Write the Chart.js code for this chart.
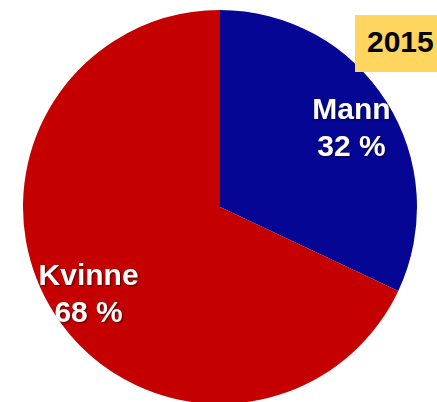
<!DOCTYPE html>
<html>
<head>
<meta charset="utf-8">
<script src="https://cdn.jsdelivr.net/npm/chart.js@4/dist/chart.umd.min.js"></script>
<style>
  html, body { margin: 0; padding: 0; background: #fff; overflow: hidden; width: 437px; height: 402px; }
  #wrap { position: absolute; left: 0; top: 0; width: 440px; height: 414px; }
  #year {
    position: absolute; left: 355px; top: 15px; width: 100px; height: 57px;
    background: #FDD55F; color: #000;
    font: bold 30px "Liberation Sans", Arial, sans-serif;
    line-height: 54px; padding-left: 12px; box-sizing: border-box;
  }
</style>
</head>
<body>
<div id="wrap"><canvas id="chart"></canvas></div>
<div id="year">2015</div>
<script>
const labels = ["Mann", "Kvinne"]
const values = [32, 68]
const percentLabels = ["32 %", "68 %"]
const colors = ["#060694", "#C40000"]

// draws the name + percent inside each slice, along its middle angle
// (clipped to the pie, white text on white page disappears in the original too)
const sliceLabels = {
  id: "sliceLabels",
  afterDatasetsDraw(chart) {
    let ctx = chart.ctx
    let arcs = chart.getDatasetMeta(0).data
    ctx.save()
    ctx.beginPath()
    ctx.arc(arcs[0].x, arcs[0].y, arcs[0].outerRadius, 0, Math.PI * 2)
    ctx.clip()
    ctx.font = 'bold 30px "Liberation Sans", Arial, sans-serif'
    ctx.textAlign = "center"
    ctx.textBaseline = "alphabetic"
    ctx.fillStyle = "#fff"
    ctx.shadowColor = "rgba(0,0,0,0.55)"
    ctx.shadowBlur = 2
    ctx.shadowOffsetX = 1
    ctx.shadowOffsetY = 1
    arcs.forEach((arc, i) => {
      let mid = (arc.startAngle + arc.endAngle) / 2
      let r = arc.outerRadius * 0.79
      let x = arc.x + Math.cos(mid) * r
      let y = arc.y + Math.sin(mid) * r
      ctx.fillText(labels[i], x, y - 5)
      ctx.fillText(percentLabels[i], x, y + 32)
    })
    ctx.restore()
  }
}

new Chart(document.getElementById("chart"), {
  type: "pie",
  data: {
    labels: labels,
    datasets: [{
      data: values,
      backgroundColor: colors,
      borderWidth: 0
    }]
  },
  options: {
    responsive: true,
    maintainAspectRatio: false,
    animation: false,
    layout: { padding: 10 },
    plugins: {
      legend: { display: false },
      tooltip: { enabled: false }
    }
  },
  plugins: [sliceLabels]
})
</script>
</body>
</html>
